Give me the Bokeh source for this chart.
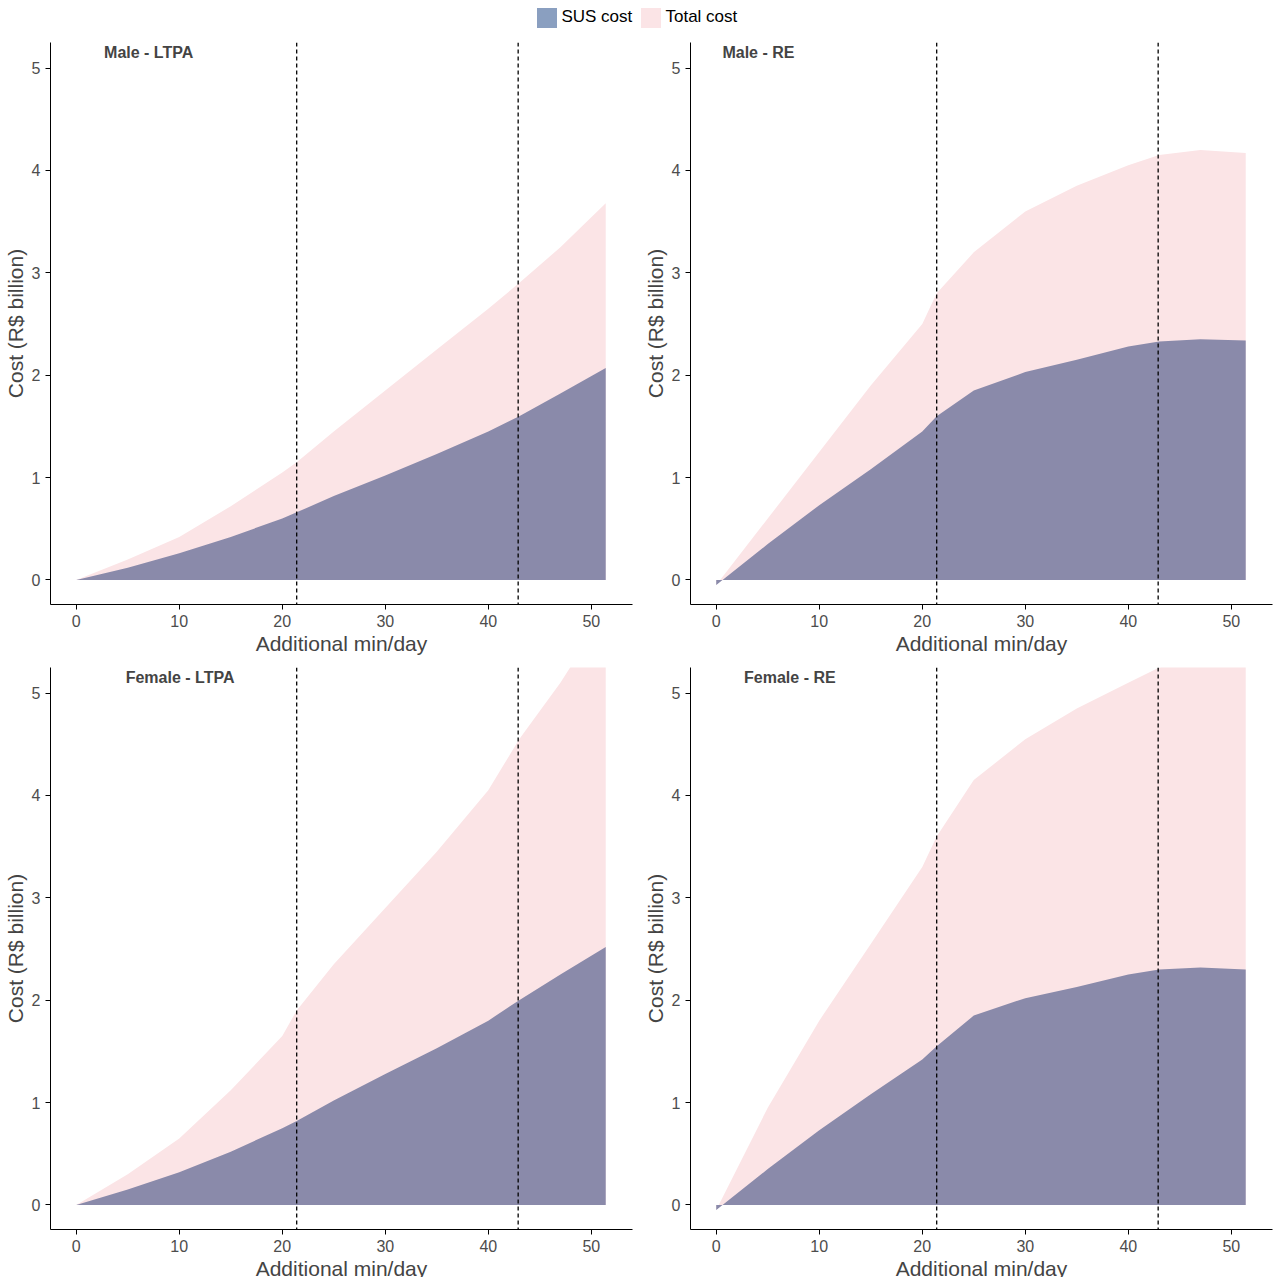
from bokeh.plotting import figure
from bokeh.layouts import column, gridplot
from bokeh.models import Div, Label, Span, Range1d
from bokeh.embed import file_html
from bokeh.resources import INLINE

x = [0, 5, 10, 15, 20, 21.4, 25, 30, 35, 40, 43, 47, 51.4]
male_ltpa_total = [0, 0.2, 0.42, 0.72, 1.05, 1.15, 1.45, 1.85, 2.25, 2.65, 2.9, 3.25, 3.68]
male_ltpa_sus = [0, 0.12, 0.26, 0.42, 0.6, 0.66, 0.82, 1.02, 1.23, 1.45, 1.6, 1.82, 2.07]
male_re_total = [-0.05, 0.6, 1.25, 1.9, 2.5, 2.8, 3.2, 3.6, 3.85, 4.05, 4.15, 4.2, 4.17]
male_re_sus = [-0.05, 0.35, 0.73, 1.08, 1.45, 1.6, 1.85, 2.03, 2.15, 2.28, 2.33, 2.35, 2.34]
female_ltpa_total = [0, 0.3, 0.65, 1.12, 1.65, 1.9, 2.35, 2.9, 3.45, 4.05, 4.55, 5.1, 5.8]
female_ltpa_sus = [0, 0.15, 0.32, 0.52, 0.75, 0.82, 1.02, 1.28, 1.53, 1.8, 2.0, 2.25, 2.52]
female_re_total = [-0.05, 0.95, 1.8, 2.55, 3.3, 3.6, 4.15, 4.55, 4.85, 5.1, 5.25, 5.35, 5.4]
female_re_sus = [-0.05, 0.35, 0.73, 1.08, 1.42, 1.55, 1.85, 2.02, 2.13, 2.25, 2.3, 2.32, 2.3]
vlines = [21.4, 42.9]
panels = [("Male - LTPA", male_ltpa_total, male_ltpa_sus, 2.7),
          ("Male - RE", male_re_total, male_re_sus, 0.6),
          ("Female - LTPA", female_ltpa_total, female_ltpa_sus, 4.8),
          ("Female - RE", female_re_total, female_re_sus, 2.7)]

PINK = "#fbe4e6"
SUS = "#8a8aaa"

figs = []
for title, tot, sus, tx in panels:
    p = figure(width=640, height=625, output_backend="svg", toolbar_location=None,
               x_range=Range1d(-2.5, 54), y_range=Range1d(-0.24, 5.25),
               min_border_top=10, min_border_right=8)
    p.varea(x=x, y1=[0]*len(x), y2=tot, fill_color=PINK)
    p.varea(x=x, y1=[0]*len(x), y2=sus, fill_color=SUS)
    for v in vlines:
        p.add_layout(Span(location=v, dimension="height", line_dash="4 3", line_color="black", line_width=1.3))
    p.add_layout(Label(x=tx, y=5.15, text=title, text_font_style="bold", text_font_size="16px",
                       text_baseline="middle", text_font="Liberation Sans"))
    p.grid.visible = False
    p.outline_line_color = None
    p.xaxis.axis_label = "Additional min/day"
    p.yaxis.axis_label = "Cost (R$ billion)"
    for ax in (p.xaxis, p.yaxis):
        ax.axis_label_text_font_size = "21px"
        ax.axis_label_text_font_style = "normal"
        ax.axis_label_text_font = "Liberation Sans"
        ax.major_label_text_font_size = "16px"
        ax.major_label_text_color = "#4d4d4d"
        ax.major_label_text_font = "Liberation Sans"
        ax.minor_tick_line_color = None
        ax.axis_line_color = "black"
        ax.major_tick_line_color = "black"
        ax.major_tick_out = 5
        ax.major_tick_in = 0
        ax.axis_label_standoff = 2
    p.xaxis.ticker = [0, 10, 20, 30, 40, 50]
    p.yaxis.ticker = [0, 1, 2, 3, 4, 5]
    figs.append(p)

legend = Div(text=(
    '<div style="width:1264px;text-align:center;font-family:Liberation Sans, Arial;font-size:17px;">'
    '<span style="display:inline-block;width:20px;height:20px;background:#8a9fc0;vertical-align:middle"></span> SUS cost '
    '<span style="display:inline-block;width:20px;height:20px;background:#fbe4e6;vertical-align:middle;margin-left:4px"></span> Total cost'
    '</div>'), width=1264, height=22)

grid = gridplot([[figs[0], figs[1]], [figs[2], figs[3]]], toolbar_location=None)
layout = column(legend, grid)
open("out.html", "w").write(file_html(layout, INLINE))
